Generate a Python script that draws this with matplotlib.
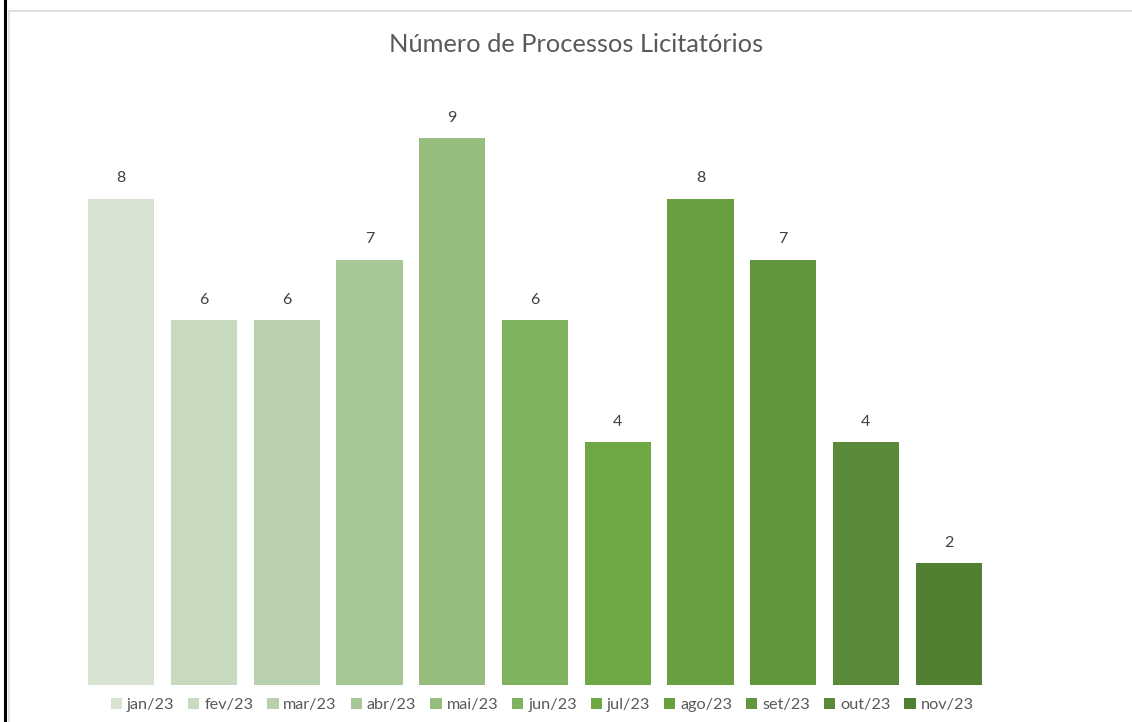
import numpy as np
import matplotlib
matplotlib.use("Agg")
import matplotlib.pyplot as plt
from matplotlib.lines import Line2D
from matplotlib.patches import Patch

# ---- data ------------------------------------------------------------------
months = ["jan/23", "fev/23", "mar/23", "abr/23", "mai/23", "jun/23",
          "jul/23", "ago/23", "set/23", "out/23", "nov/23"]
counts = [8, 6, 6, 7, 9, 6, 4, 8, 7, 4, 2]
colors = ["#D8E4D1", "#C8DAC0", "#B8D0AD", "#A7C797", "#96BD7E", "#7FB25E",
          "#6EA845", "#679F41", "#61963D", "#598A39", "#528033"]

W, H = 1132, 722
plt.rcParams.update({"font.family": ["Lato", "DejaVu Sans"]})
fig = plt.figure(figsize=(W / 100, H / 100), dpi=100)

# outer frame bits (black edge on the left, light chart border)
fig.add_artist(Line2D([5 / W, 5 / W], [0, 1], color="black", lw=2.2,
                      transform=fig.transFigure))
fig.add_artist(Line2D([9 / W, 1], [1 - 11 / H, 1 - 11 / H], color="#D9D9D9",
                      lw=1.2, transform=fig.transFigure))
fig.add_artist(Line2D([9 / W, 9 / W], [0, 1 - 11 / H], color="#D9D9D9",
                      lw=1.2, transform=fig.transFigure))

ax = fig.add_axes([80 / W, 37 / H, 910 / W, 607.8 / H])
x = np.arange(len(months))
bars = ax.bar(x, counts, width=0.8, color=colors)
for xi, v in zip(x, counts):
    ax.text(xi, v + 0.22, str(v), ha="center", va="bottom",
            fontsize=11.5, color="#404040")

ax.set_xlim(-0.5, len(months) - 0.5)
ax.set_ylim(0, 10)
ax.axis("off")

fig.text(576 / W, 1 - 45 / H, "Número de Processos Licitatórios",
         ha="center", va="center", fontsize=18.3, color="#595959")

handles = [Patch(facecolor=c, edgecolor="none") for c in colors]
fig.legend(handles, months, loc="center", bbox_to_anchor=(542 / W, 1 - 705 / H),
           ncol=len(months), frameon=False, fontsize=11.7, handlelength=0.7,
           handleheight=0.7, handletextpad=0.3, columnspacing=0.85,
           labelcolor="#595959")

fig.savefig("out.png", dpi=100)
